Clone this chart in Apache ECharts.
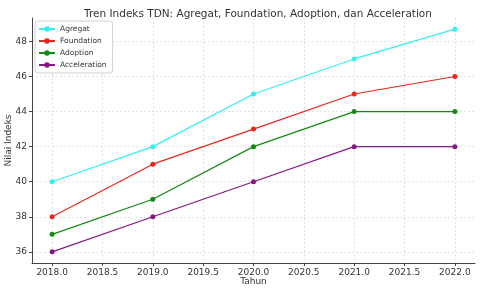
<!DOCTYPE html>
<html>
<head>
<meta charset="utf-8">
<script src="https://cdn.jsdelivr.net/npm/echarts@6/dist/echarts.min.js"></script>
<style>html,body{margin:0;padding:0;background:#fff;}#c{width:480px;height:288px;}</style>
</head>
<body>
<div id="c"></div>
<script>
const years = [2018, 2019, 2020, 2021, 2022];
const agregat = [40, 42, 45, 47, 48.7];
const foundation = [38, 41, 43, 45, 46];
const adoption = [37, 39, 42, 44, 44];
const acceleration = [36, 38, 40, 42, 42];
const xTicks = [2018, 2018.5, 2019, 2019.5, 2020, 2020.5, 2021, 2021.5, 2022];
const yTicks = [36, 38, 40, 42, 44, 46, 48];

const FONT = 'DejaVu Sans';
function pairs(vals) { return years.map((y, i) => [y, vals[i]]); }
function mk(name, vals, color) {
  return {
    name: name, type: 'line', data: pairs(vals),
    symbol: 'circle', symbolSize: 5,
    lineStyle: { color: color, width: 1.2 },
    itemStyle: { color: color },
    emphasis: { disabled: true }
  };
}
const chart = echarts.init(document.getElementById('c'), null, { renderer: 'canvas' });
chart.setOption({
  animation: false,
  backgroundColor: '#fff',
  title: {
    text: 'Tren Indeks TDN: Agregat, Foundation, Adoption, dan Acceleration',
    left: 253, top: 4, textAlign: 'center',
    textStyle: { fontFamily: FONT, fontSize: 10.5, fontWeight: 'normal', color: '#333' }
  },
  legend: {
    orient: 'vertical', left: 35, top: 21,
    padding: [4, 6, 4, 3],
    itemWidth: 16, itemHeight: 7, itemGap: 4,
    borderColor: '#d0d0d0', borderWidth: 1, borderRadius: 3, backgroundColor: '#fff',
    textStyle: { fontFamily: FONT, fontSize: 7.5, color: '#333', lineHeight: 7 },
    data: ['Agregat', 'Foundation', 'Adoption', 'Acceleration']
  },
  grid: { left: 32, right: 5, top: 18, bottom: 25, containLabel: false, outerBoundsMode: 'none' },
  xAxis: {
    type: 'value', min: 2017.8, max: 2022.2,
    name: 'Tahun', nameLocation: 'middle', nameGap: 14, nameMoveOverlap: false,
    nameTextStyle: { fontFamily: FONT, fontSize: 9, color: '#333' },
    axisLine: { show: true, lineStyle: { color: '#444', width: 1 } },
    axisTick: { show: true, length: 3, customValues: xTicks, lineStyle: { color: '#444' } },
    axisLabel: { customValues: xTicks, fontFamily: FONT, fontSize: 9, color: '#333', margin: 5,
      formatter: v => v.toFixed(1) },
    splitLine: { show: true, lineStyle: { color: '#ddd', type: [2, 2], width: 0.8 } }
  },
  yAxis: {
    type: 'value', min: 35.365, max: 49.335,
    name: 'Nilai Indeks', nameLocation: 'middle', nameGap: 19, nameMoveOverlap: false,
    nameTextStyle: { fontFamily: FONT, fontSize: 9, color: '#333' },
    axisLine: { show: true, lineStyle: { color: '#444', width: 1 } },
    axisTick: { show: true, length: 3, customValues: yTicks, lineStyle: { color: '#444' } },
    axisLabel: { customValues: yTicks, fontFamily: FONT, fontSize: 9, color: '#333', margin: 5,
      formatter: v => String(Math.round(v)) },
    splitLine: { show: true, lineStyle: { color: '#ddd', type: [2, 2], width: 0.8 } }
  },
  series: [
    mk('Agregat', agregat, '#33f0f0'),
    mk('Foundation', foundation, '#e8281e'),
    mk('Adoption', adoption, '#138a13'),
    mk('Acceleration', acceleration, '#851885')
  ]
});
</script>
</body>
</html>
